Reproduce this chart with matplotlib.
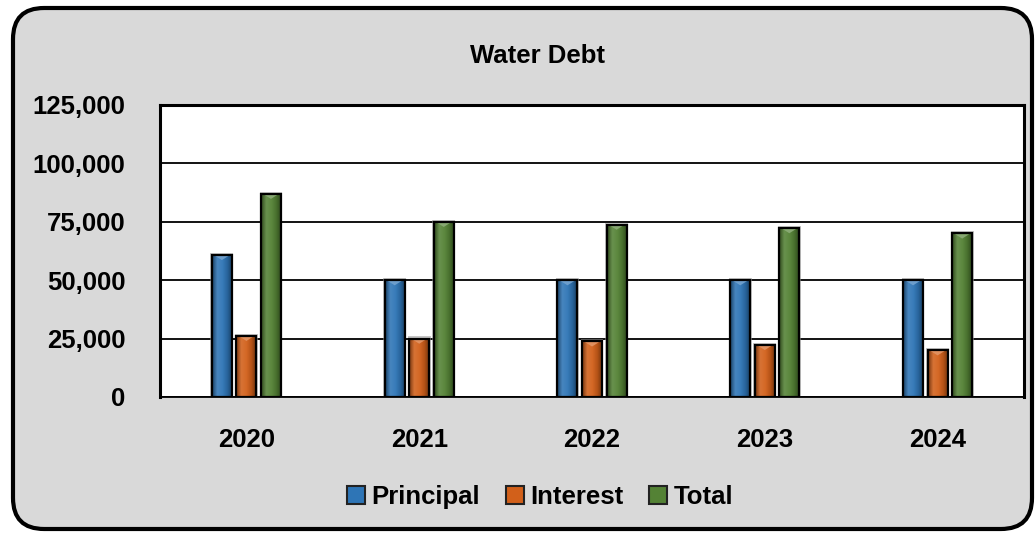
import numpy as np
import matplotlib
matplotlib.use("Agg")
import matplotlib.pyplot as plt
from matplotlib.patches import FancyBboxPatch, Rectangle, Polygon
from matplotlib.colors import to_rgb, LinearSegmentedColormap
from matplotlib.ticker import FuncFormatter

# Debt service by year
years = ["2020", "2021", "2022", "2023", "2024"]
principal = [60800, 50000, 50000, 50000, 50000]
interest = [26200, 25000, 23800, 22300, 20000]
total = [87000, 75000, 73800, 72300, 70000]

series_names = ["Principal", "Interest", "Total"]
series_colors = ["#2e75b6", "#d2601a", "#548235"]

plt.rcParams["font.family"] = ["Liberation Sans Narrow", "Liberation Sans", "DejaVu Sans"]
plt.rcParams["font.weight"] = "bold"

fig = plt.figure(figsize=(10.36, 5.37), dpi=100)
fig.patch.set_facecolor("white")

# rounded chart frame
frame = FancyBboxPatch((13 / 1036, 8 / 537), 1019 / 1036, 521 / 537,
                       boxstyle="round,pad=0,rounding_size=0.03",
                       transform=fig.transFigure, facecolor="#d9d9d9",
                       edgecolor="black", linewidth=3, mutation_aspect=1036 / 537,
                       zorder=-10)
fig.patches.append(frame)

ax = fig.add_axes([160 / 1036, 140 / 537, 864 / 1036, 292 / 537])
ax.set_facecolor("white")
ax.set_zorder(1)

x = np.arange(len(years))
width = 0.116
pitch = 0.142


def shade(color, f):
    c = np.array(to_rgb(color))
    if f >= 0:
        return tuple(c + (1 - c) * f)
    return tuple(c * (1 + f))


def draw_bar(xc, h, color):
    x0 = xc - width / 2
    # soft grey halo
    ax.add_patch(Rectangle((x0 - 0.008, 0), width + 0.016, h + 900,
                           facecolor="#9a9a9a", edgecolor="none", alpha=0.55, zorder=2))
    body = Rectangle((x0, 0), width, h, facecolor=color, edgecolor="none", zorder=3)
    ax.add_patch(body)
    cmap = LinearSegmentedColormap.from_list(
        "b", [shade(color, -0.45), shade(color, 0.12), shade(color, 0.05),
              shade(color, -0.15), shade(color, -0.5)])
    grad = np.linspace(0, 1, 64).reshape(1, -1)
    im = ax.imshow(grad, extent=(x0, x0 + width, 0, h), aspect="auto",
                   cmap=cmap, zorder=3.5, interpolation="bilinear")
    im.set_clip_path(body)
    # bevel highlight at the top
    th = 2200
    ax.add_patch(Polygon([(x0 + width * 0.15, h - 300), (x0 + width * 0.85, h - 300),
                          (xc, h - th)], closed=True,
                         facecolor=shade(color, 0.3), edgecolor="none", zorder=4))
    ax.add_patch(Rectangle((x0, 0), width, h, facecolor="none",
                           edgecolor="black", linewidth=1.6, zorder=5))


for i, (vals, col) in enumerate(zip([principal, interest, total], series_colors)):
    for xi, v in zip(x, vals):
        draw_bar(xi + (i - 1) * pitch, v, col)

ax.set_xlim(-0.5, len(years) - 0.5)
ax.set_ylim(0, 125000)
ax.set_yticks(np.arange(0, 125001, 25000))
ax.yaxis.set_major_formatter(FuncFormatter(lambda v, p: f"{int(v):,}"))
ax.set_xticks(x)
ax.set_xticklabels(years)
ax.tick_params(axis="both", length=0, labelsize=18.5)
ax.tick_params(axis="x", pad=22)
ax.tick_params(axis="y", pad=25)
for lab in ax.get_yticklabels() + ax.get_xticklabels():
    lab.set_fontweight("bold")
ax.grid(axis="y", color="black", linewidth=1.3, zorder=1)
ax.set_axisbelow(True)
for side, sp in ax.spines.items():
    sp.set_color("black")
    sp.set_linewidth(2.2)
ax.spines["bottom"].set_linewidth(1.3)

fig.text(538 / 1036, 1 - 56 / 537, "Water Debt", ha="center", va="center",
         fontsize=18.5, fontweight="bold")

handles = [Rectangle((0, 0), 1, 1, facecolor=c, edgecolor="#222222", linewidth=1.5)
           for c in series_colors]
leg = fig.legend(handles, series_names, loc="center", ncol=3,
                 bbox_to_anchor=(540 / 1036, 40 / 537), frameon=False,
                 handlelength=0.7, handleheight=0.7, handletextpad=0.25,
                 columnspacing=1.0, prop={"size": 18.5, "weight": "bold"})

fig.savefig("out.png", dpi=100, facecolor="white")
